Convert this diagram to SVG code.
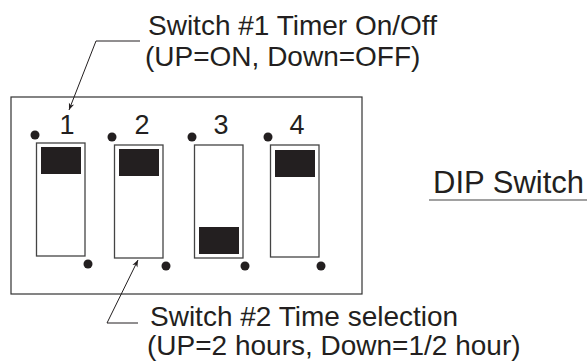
<svg xmlns="http://www.w3.org/2000/svg" width="588" height="362" viewBox="0 0 588 362">
<defs>
<style>
text{font-family:"Liberation Sans",Arial,sans-serif;fill:#231f20}
.lbl{font-size:28px}
.num{font-size:27px;text-anchor:middle}
.sw{fill:#fff;stroke:#444;stroke-width:1.3}
.blk{fill:#231f20}
.dot{fill:#231f20}
.ln{fill:none;stroke:#231f20;stroke-width:1}
</style>
<marker id="ah" viewBox="0 0 10 10" refX="10" refY="5" markerWidth="7" markerHeight="7" orient="auto" markerUnits="userSpaceOnUse">
<path d="M0,1 L10,5 L0,9 L3,5 Z" fill="#231f20"/>
</marker>
</defs>
<rect width="588" height="362" fill="#fff"/>
<g id="board">
<rect x="11" y="97" width="351" height="197" fill="none" stroke="#333" stroke-width="1.2"/>
</g>
<g id="switch1">
<text class="num" x="67" y="134">1</text>
<circle class="dot" cx="35" cy="135" r="4.5"/>
<rect class="sw" x="36.5" y="143" width="48.5" height="113"/>
<rect class="blk" x="41" y="147" width="40" height="27"/>
<circle class="dot" cx="88" cy="264" r="4.5"/>
</g>
<g id="switch2">
<text class="num" x="142" y="134">2</text>
<circle class="dot" cx="112" cy="137" r="4.5"/>
<rect class="sw" x="114.5" y="145" width="48.5" height="113"/>
<rect class="blk" x="119" y="149" width="40" height="27"/>
<circle class="dot" cx="166" cy="266" r="4.5"/>
</g>
<g id="switch3">
<text class="num" x="221" y="134">3</text>
<circle class="dot" cx="192" cy="137" r="4.5"/>
<rect class="sw" x="194.5" y="145" width="48.5" height="113"/>
<rect class="blk" x="199" y="227" width="40" height="27"/>
<circle class="dot" cx="245" cy="266" r="4.5"/>
</g>
<g id="switch4">
<text class="num" x="297" y="134">4</text>
<circle class="dot" cx="268" cy="137" r="4.5"/>
<rect class="sw" x="270.5" y="145" width="48.5" height="112"/>
<rect class="blk" x="275" y="150" width="40" height="27"/>
<circle class="dot" cx="321" cy="266" r="4.5"/>
</g>
<g id="label-switch1">
<text class="lbl" x="148" y="35">Switch #1 Timer On/Off</text>
<text class="lbl" x="145" y="66">(UP=ON, Down=OFF)</text>
</g>
<g id="label-switch2">
<text class="lbl" x="150" y="326">Switch #2 Time selection</text>
<text class="lbl" x="147" y="355">(UP=2 hours, Down=1/2 hour)</text>
</g>
<g id="label-dip">
<text x="433" y="193" style="font-size:31px">DIP Switch</text>
<line x1="429" y1="200" x2="587" y2="200" stroke="#444" stroke-width="1.2"/>
</g>
<g id="connectors">
<polyline class="ln" points="140,41 96,41 69,110" marker-end="url(#ah)"/>
<polyline class="ln" points="138,323 107,323 138,260" marker-end="url(#ah)"/>
</g>
</svg>
